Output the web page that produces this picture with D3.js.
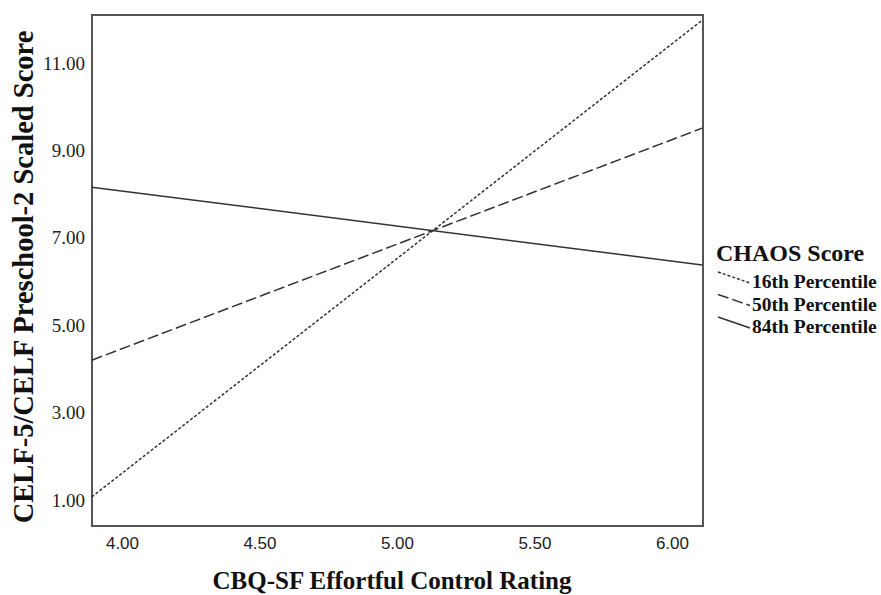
<!DOCTYPE html>
<html>
<head>
<meta charset="utf-8">
<script src="https://cdn.jsdelivr.net/npm/d3@7"></script>
<style>
  body { margin: 0; background: #fff; }
  #chart { width: 881px; height: 595px; }
</style>
</head>
<body>
<div id="chart"></div>
<script>
// data: fitted lines at the two ends of the x range
const xEnds = [3.89, 6.11];
const seriesNames = ["16th Percentile", "50th Percentile", "84th Percentile"];
const p16 = [1.07, 11.98];
const p50 = [4.20, 9.51];
const p84 = [8.16, 6.38];
const xTicks = [4.0, 4.5, 5.0, 5.5, 6.0];
const yTicks = [1, 3, 5, 7, 9, 11];

const width = 881, height = 595;
const margin = { top: 15, right: 178, bottom: 69, left: 92 };
const innerW = width - margin.left - margin.right;
const innerH = height - margin.top - margin.bottom;

const serif = "'Liberation Serif', 'Times New Roman', serif";

const svg = d3.select("#chart").append("svg")
  .attr("width", width)
  .attr("height", height);

const g = svg.append("g")
  .attr("transform", `translate(${margin.left},${margin.top})`);

// scales
const x = d3.scaleLinear().domain([3.891, 6.113]).range([0, innerW]);
const y = d3.scaleLinear().domain([0.405, 12.1]).range([innerH, 0]);

// plot frame
g.append("rect")
  .attr("width", innerW)
  .attr("height", innerH)
  .attr("fill", "none")
  .attr("stroke", "#555")
  .attr("stroke-width", 2);

// axes (no tick marks, labels only)
const xAxis = g.append("g")
  .attr("transform", `translate(0,${innerH})`)
  .call(d3.axisBottom(x).tickValues(xTicks).tickSize(0).tickPadding(11).tickFormat(d3.format(".2f")));
xAxis.select(".domain").remove();
xAxis.selectAll("text")
  .style("font-family", "'Liberation Sans', Arial, sans-serif")
  .style("font-size", "17px")
  .attr("fill", "#222");

const yAxis = g.append("g")
  .call(d3.axisLeft(y).tickValues(yTicks).tickSize(0).tickPadding(7).tickFormat(d3.format(".2f")));
yAxis.select(".domain").remove();
yAxis.selectAll("text")
  .style("font-family", serif)
  .style("font-size", "19px")
  .attr("fill", "#222");

// lines
const series = [
  { name: seriesNames[0], values: p16, dash: "3,2" },
  { name: seriesNames[1], values: p50, dash: "11,4" },
  { name: seriesNames[2], values: p84, dash: null }
];

const line = d3.line()
  .x(d => x(d[0]))
  .y(d => y(d[1]));

g.selectAll(".series")
  .data(series)
  .join("path")
  .attr("class", "series")
  .attr("d", s => line(xEnds.map((xv, i) => [xv, s.values[i]])))
  .attr("fill", "none")
  .attr("stroke", "#333")
  .attr("stroke-width", 1.5)
  .attr("stroke-dasharray", s => s.dash);

// axis titles
svg.append("text")
  .attr("x", 392)
  .attr("y", 589)
  .attr("text-anchor", "middle")
  .style("font-family", serif)
  .style("font-weight", "bold")
  .style("font-size", "25px")
  .attr("fill", "#111")
  .text("CBQ-SF Effortful Control Rating");

svg.append("text")
  .attr("transform", "translate(33,277) rotate(-90)")
  .attr("text-anchor", "middle")
  .style("font-family", serif)
  .style("font-weight", "bold")
  .style("font-size", "28.5px")
  .attr("fill", "#111")
  .text("CELF-5/CELF Preschool-2 Scaled Score");

// legend
const legend = svg.append("g").attr("transform", "translate(716,0)");
legend.append("text")
  .attr("x", 0)
  .attr("y", 261)
  .style("font-family", serif)
  .style("font-weight", "bold")
  .style("font-size", "24px")
  .attr("fill", "#111")
  .text("CHAOS Score");

const item = legend.selectAll(".item")
  .data(series)
  .join("g")
  .attr("class", "item")
  .attr("transform", (d, i) => `translate(0,${i * 22.5})`);

item.append("line")
  .attr("x1", 2).attr("y1", 272)
  .attr("x2", 34).attr("y2", 283)
  .attr("stroke", "#333")
  .attr("stroke-width", 1.5)
  .attr("stroke-dasharray", d => d.dash);

item.append("text")
  .attr("x", 36)
  .attr("y", 288)
  .style("font-family", serif)
  .style("font-weight", "bold")
  .style("font-size", "19.5px")
  .attr("fill", "#111")
  .text(d => d.name);
</script>
</body>
</html>
